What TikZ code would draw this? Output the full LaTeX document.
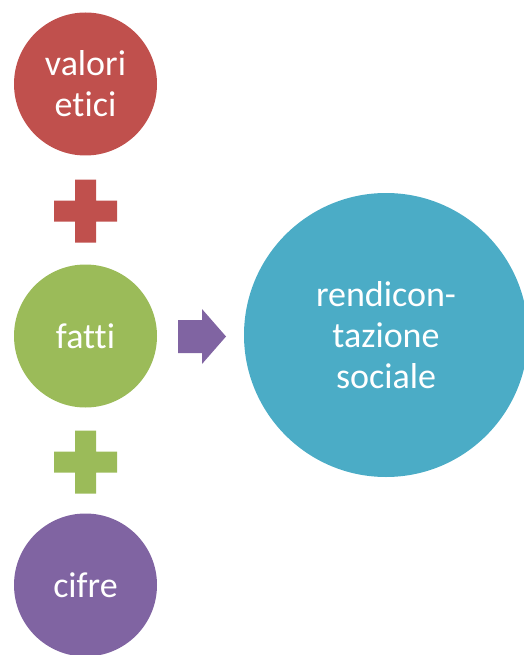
\documentclass[tikz,border=0pt]{standalone}
\usepackage{fontspec}
\setmainfont[RawFeature={-liga;-clig}]{Carlito}
\definecolor{cred}{HTML}{C0504D}
\definecolor{cgreen}{HTML}{9BBB59}
\definecolor{cpurple}{HTML}{8064A2}
\definecolor{caqua}{HTML}{4BACC6}
\begin{document}
\begin{tikzpicture}[x=1pt,y=-1pt,
  bubble/.style={circle,draw=none,inner sep=0pt,minimum size=143pt,text=white,align=center,font=\fontsize{36}{41}\selectfont},
  bigbubble/.style={bubble,minimum size=284pt}]
\useasboundingbox (0,0) rectangle (524,655);
\node[bubble,fill=cred] (v) at (85.5,84) {valori\\etici};
\node[bubble,fill=cgreen] (f) at (85.5,336) {fatti};
\node[bubble,fill=cpurple] (c) at (85.5,585) {cifre};
\node[bigbubble,fill=caqua] (r) at (386,335) {rendicon-\\tazione\\sociale};
% plus signs
\coordinate (p1) at (85.5,211);
\coordinate (p2) at (85.5,462);
\fill[cred] ([shift={(-10.5,-31.5)}]p1) -- ++(21,0) -- ++(0,21) -- ++(21,0) -- ++(0,21) -- ++(-21,0) -- ++(0,21) -- ++(-21,0) -- ++(0,-21) -- ++(-21,0) -- ++(0,-21) -- ++(21,0) -- cycle;
\fill[cgreen] ([shift={(-10.5,-31.5)}]p2) -- ++(21,0) -- ++(0,21) -- ++(21,0) -- ++(0,21) -- ++(-21,0) -- ++(0,21) -- ++(-21,0) -- ++(0,-21) -- ++(-21,0) -- ++(0,-21) -- ++(21,0) -- cycle;
% arrow
\coordinate (a) at (178,336.5);
\fill[cpurple] ([shift={(0,-16.5)}]a) -- ++(24,0) -- ++(0,-11) -- ++(24,27.5) -- ++(-24,27.5) -- ++(0,-11) -- ++(-24,0) -- cycle;
\end{tikzpicture}
\end{document}
